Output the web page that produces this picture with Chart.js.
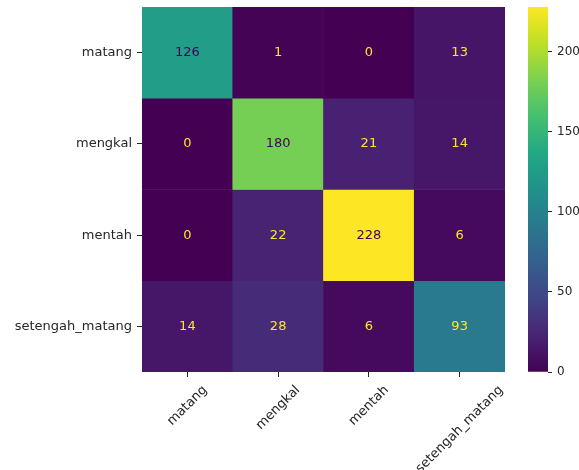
<!DOCTYPE html>
<html>
<head>
<meta charset="utf-8">
<script src="https://cdn.jsdelivr.net/npm/chart.js@4/dist/chart.umd.min.js"></script>
<style>
  html, body { margin: 0; padding: 0; background: #fff; overflow: hidden; }
  #wrap { position: relative; width: 579px; height: 470px; }
  #cm { position: absolute; left: 0; top: 0; }
  #cb { position: absolute; left: 528px; top: 0; }
</style>
</head>
<body>
<div id="wrap">
  <canvas id="cm" width="579" height="470"></canvas>
  <canvas id="cb" width="51" height="470"></canvas>
</div>
<script>
// Class names (true label rows / predicted label columns)
const classLabels = ['matang', 'mengkal', 'mentah', 'setengah_matang'];

// Confusion matrix rows (true label), columns in classLabels order
const rowMatang = [126, 1, 0, 13];
const rowMengkal = [0, 180, 21, 14];
const rowMentah = [0, 22, 228, 6];
const rowSetengahMatang = [14, 28, 6, 93];

// Colorbar tick values
const colorbarTicks = [0, 50, 100, 150, 200];

const rows = [rowMatang, rowMengkal, rowMentah, rowSetengahMatang];
const allValues = rows.flat();
const vmin = Math.min(...allValues);
const vmax = Math.max(...allValues);
const textThreshold = (vmax + vmin) / 2;

// Viridis colormap
const viridisStops = ['#440154', '#482475', '#414487', '#355f8d', '#2a788e',
  '#21918c', '#22a884', '#44bf70', '#7ad151', '#bddf26', '#fde725'];
function hexToRgb(h) {
  return [parseInt(h.slice(1, 3), 16), parseInt(h.slice(3, 5), 16), parseInt(h.slice(5, 7), 16)];
}
function viridis(t) {
  t = Math.max(0, Math.min(1, t));
  const p = t * (viridisStops.length - 1);
  const i = Math.min(viridisStops.length - 2, Math.floor(p));
  const f = p - i;
  const a = hexToRgb(viridisStops[i]), b = hexToRgb(viridisStops[i + 1]);
  const c = a.map((v, k) => Math.round(v + (b[k] - v) * f));
  return `rgb(${c[0]},${c[1]},${c[2]})`;
}

const FONT = "'DejaVu Sans', sans-serif";
const TEXT_COLOR = '#262626';
Chart.defaults.font.family = FONT;
Chart.defaults.font.size = 13;
Chart.defaults.color = TEXT_COLOR;

// Writes each cell's count in its centre
const cellText = {
  id: 'cellText',
  afterDatasetsDraw(chart) {
    const ctx = chart.ctx;
    ctx.save();
    ctx.font = `13px ${FONT}`;
    ctx.textAlign = 'center';
    ctx.textBaseline = 'middle';
    chart.data.datasets.forEach((ds, di) => {
      const meta = chart.getDatasetMeta(di);
      meta.data.forEach((el, j) => {
        const v = ds.values[j];
        ctx.fillStyle = v >= textThreshold ? viridis(0) : viridis(1);
        ctx.fillText(String(v), el.x, (el.y + el.base) / 2);
      });
    });
    ctx.restore();
  }
};

// Rotated (45°) column labels, centred under their ticks
const rotatedXLabels = {
  id: 'rotatedXLabels',
  afterDraw(chart) {
    const ctx = chart.ctx;
    const xs = chart.scales.x;
    const top = chart.chartArea.bottom + 11;
    const fontH = 14;
    ctx.save();
    ctx.font = `13px ${FONT}`;
    ctx.fillStyle = TEXT_COLOR;
    ctx.textAlign = 'center';
    ctx.textBaseline = 'middle';
    classLabels.forEach((lab, i) => {
      const w = ctx.measureText(lab).width;
      const half = (w + fontH) * Math.SQRT1_2 / 2;
      const cx = xs.getPixelForTick(i);
      ctx.save();
      ctx.translate(cx, top + half);
      ctx.rotate(-Math.PI / 4);
      ctx.fillText(lab, 0, 0);
      ctx.restore();
    });
    ctx.restore();
  }
};

new Chart(document.getElementById('cm'), {
  type: 'bar',
  data: {
    labels: classLabels,
    datasets: rows.map((vals, r) => ({
      label: classLabels[r],
      data: vals.map(() => [r, r + 1]),
      values: vals,
      backgroundColor: vals.map(v => viridis((v - vmin) / (vmax - vmin))),
      borderWidth: 0,
      grouped: false,
      barPercentage: 1,
      categoryPercentage: 1
    }))
  },
  options: {
    responsive: false,
    devicePixelRatio: 1,
    animation: false,
    events: [],
    layout: { padding: { left: 0, top: 7, right: 74, bottom: 0 } },
    plugins: { legend: { display: false }, tooltip: { enabled: false } },
    scales: {
      x: {
        type: 'category',
        offset: true,
        grid: { offset: false, drawOnChartArea: false, drawTicks: true, tickLength: 5, color: TEXT_COLOR, lineWidth: 1 },
        border: { display: false },
        ticks: { display: false },
        afterFit(scale) { scale.height = 98; scale.paddingLeft = 0; scale.paddingRight = 0; }
      },
      y: {
        type: 'linear',
        min: 0,
        max: rows.length,
        reverse: true,
        grid: { drawOnChartArea: false, drawTicks: true, tickLength: 5, color: TEXT_COLOR, lineWidth: 1 },
        border: { display: false },
        afterBuildTicks(scale) {
          scale.ticks = classLabels.map((_, i) => ({ value: i + 0.5 }));
        },
        ticks: {
          padding: 5,
          color: TEXT_COLOR,
          font: { size: 13 },
          callback: (v) => classLabels[Math.round(v - 0.5)]
        },
        afterFit(scale) { scale.width = 142; scale.paddingTop = 0; scale.paddingBottom = 0; }
      }
    }
  },
  plugins: [cellText, rotatedXLabels]
});

// Colorbar
new Chart(document.getElementById('cb'), {
  type: 'bar',
  data: {
    labels: [''],
    datasets: [{
      data: [[vmin, vmax]],
      backgroundColor(c) {
        const chart = c.chart;
        if (!chart.chartArea) return viridis(0.5);
        const y = chart.scales.y;
        const g = chart.ctx.createLinearGradient(0, y.getPixelForValue(vmin), 0, y.getPixelForValue(vmax));
        viridisStops.forEach((col, i) => g.addColorStop(i / (viridisStops.length - 1), col));
        return g;
      },
      borderWidth: 0,
      barPercentage: 1,
      categoryPercentage: 1
    }]
  },
  options: {
    responsive: false,
    devicePixelRatio: 1,
    animation: false,
    events: [],
    layout: { padding: { left: 0, top: 7, right: 0, bottom: 98 } },
    plugins: { legend: { display: false }, tooltip: { enabled: false } },
    scales: {
      x: { display: false },
      y: {
        position: 'right',
        min: vmin,
        max: vmax,
        grid: { drawOnChartArea: false, drawTicks: true, tickLength: 4, color: TEXT_COLOR, lineWidth: 1 },
        border: { display: false },
        afterBuildTicks(scale) {
          scale.ticks = colorbarTicks.map(v => ({ value: v }));
        },
        ticks: { padding: 5, color: TEXT_COLOR, font: { size: 12 } },
        afterFit(scale) { scale.width = 31; scale.paddingTop = 0; scale.paddingBottom = 0; }
      }
    }
  }
});
</script>
</body>
</html>
